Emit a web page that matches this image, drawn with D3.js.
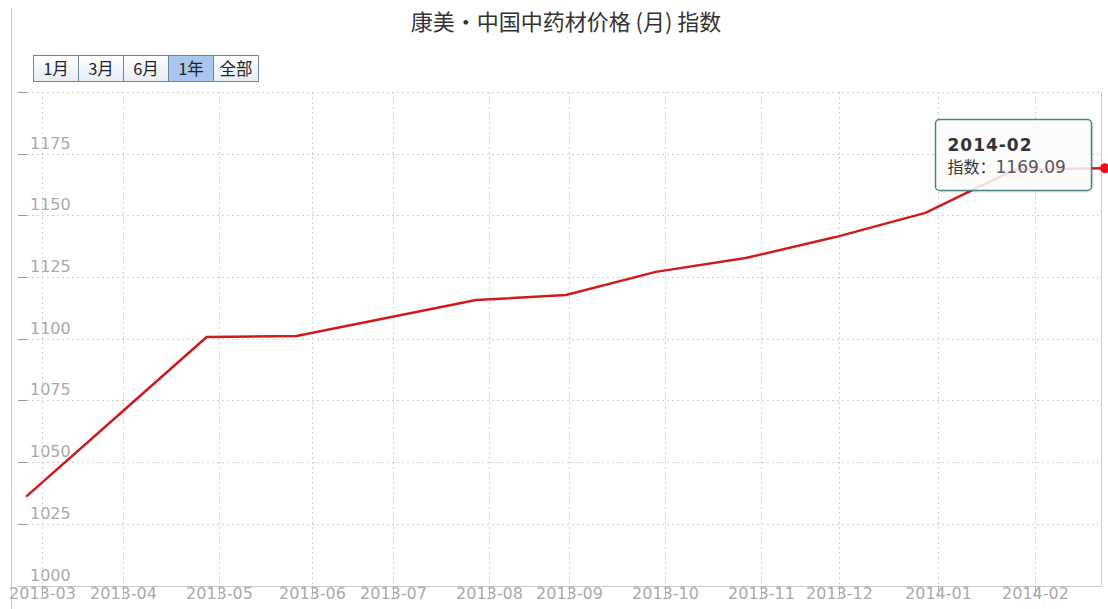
<!DOCTYPE html>
<html>
<head>
  <meta charset="utf-8">
  <title>康美·中国中药材价格 (月) 指数</title>
  <script src="https://d3js.org/d3.v7.min.js"></script>
  <style>
    body { margin: 0; background: #fff; }
  </style>
</head>
<body>

<div id="chart"></div>

<script>
// data: one point per month (release dates near month end)
const dates = ["2013-02-23", "2013-03-30", "2013-04-27", "2013-05-26", "2013-06-29", "2013-07-27",
  "2013-08-31", "2013-09-28", "2013-10-26", "2013-11-30", "2013-12-28", "2014-01-25", "2014-02-25"];
const values = [1036.3, 1068.5, 1100.7, 1101.1, 1108.4, 1115.7,
  1117.7, 1127.1, 1132.7, 1141.2, 1151.0, 1168.6, 1169.09];
const monthTicks = ["2013-03", "2013-04", "2013-05", "2013-06", "2013-07", "2013-08",
  "2013-09", "2013-10", "2013-11", "2013-12", "2014-01", "2014-02"];
const yTicks = [1000, 1025, 1050, 1075, 1100, 1125, 1150, 1175, 1200];
const buttons = ["1月", "3月", "6月", "1年", "全部"];
const selectedButton = "1年";

const W = 1108, H = 609;
const plot = { left: 18, right: 1101, top: 92, bottom: 585.5 };
const axisFont = "DejaVu Sans, sans-serif";
const cjkFont = "'Noto Sans CJK SC', sans-serif";

const parseDay = d3.timeParse("%Y-%m-%d");
const parseMonth = d3.timeParse("%Y-%m");
const fmtMonth = d3.timeFormat("%Y-%m");

const data = dates.map((d, i) => ({ date: parseDay(d), value: values[i] }));

const svg = d3.select("#chart")
  .append("svg")
  .attr("width", W)
  .attr("height", H)
  .style("font-family", axisFont);

// ordinal-style x axis: points evenly spaced, dates interpolated between them
const xIndex = d3.scaleLinear().domain([0, data.length - 1]).range([27, 1105]);
const x = d3.scaleTime()
  .domain(data.map(d => d.date))
  .range(data.map((d, i) => xIndex(i)));

const y = d3.scaleLinear()
  .domain([1000, 1200])
  .range([plot.bottom, plot.top]);

// title
svg.append("text")
  .attr("x", 566)
  .attr("y", 30)
  .attr("text-anchor", "middle")
  .attr("font-family", cjkFont)
  .attr("font-size", 22)
  .attr("fill", "#333")
  .text("康美·中国中药材价格 (月) 指数");

// range selector buttons
const defs = svg.append("defs");
const grad = defs.append("linearGradient").attr("id", "btn").attr("x1", 0).attr("y1", 0).attr("x2", 0).attr("y2", 1);
grad.append("stop").attr("offset", "0%").attr("stop-color", "#ffffff");
grad.append("stop").attr("offset", "100%").attr("stop-color", "#e6edf6");

const bx = d3.scaleBand().domain(buttons).range([33.5, 258.5]);
const btn = svg.append("g").selectAll("g")
  .data(buttons)
  .join("g")
  .attr("transform", d => `translate(${bx(d)},55.5)`);
btn.append("rect")
  .attr("width", bx.bandwidth())
  .attr("height", 26)
  .attr("fill", d => d === selectedButton ? "#a9c6ec" : "url(#btn)")
  .attr("stroke", "#72849c");
btn.append("text")
  .attr("x", bx.bandwidth() / 2)
  .attr("y", 19.5)
  .attr("text-anchor", "middle")
  .attr("font-family", cjkFont)
  .attr("font-size", 16.5)
  .attr("fill", "#222")
  .text(d => d);

// left axis line
svg.append("line")
  .attr("x1", 11.5).attr("x2", 11.5)
  .attr("y1", 8).attr("y2", H)
  .attr("stroke", "#c8c8c8");

// horizontal grid + y ticks
const yg = svg.append("g").selectAll("g")
  .data(yTicks)
  .join("g")
  .attr("transform", d => `translate(0,${Math.round(y(d)) + 0.5})`);
yg.filter(d => d !== 1000).append("line")
  .attr("x1", 27).attr("x2", plot.right)
  .attr("stroke", "#d0d0d0")
  .attr("stroke-dasharray", "2,3");
yg.append("line")
  .attr("x1", plot.left).attr("x2", 27)
  .attr("stroke", "#999");
yg.filter(d => d !== 1200).append("text")
  .attr("x", 30)
  .attr("y", -6)
  .attr("font-size", 16)
  .attr("fill", "#aaa")
  .text(d => d);

// x axis: vertical grid, ticks, labels
const tickDates = monthTicks.map(parseMonth);
const xg = svg.append("g").selectAll("g")
  .data(tickDates)
  .join("g")
  .attr("transform", d => `translate(${Math.round(x(d)) + 0.5},0)`);
xg.append("line")
  .attr("y1", plot.top).attr("y2", plot.bottom)
  .attr("stroke", "#d0d0d0")
  .attr("stroke-dasharray", "2,3");
xg.append("line")
  .attr("y1", plot.bottom).attr("y2", plot.bottom + 11)
  .attr("stroke", "#aaa");
xg.append("text")
  .attr("y", 599)
  .attr("text-anchor", "middle")
  .attr("font-size", 16)
  .attr("fill", "#aaa")
  .text(d => fmtMonth(d));

// bottom axis line and right border
svg.append("line")
  .attr("x1", plot.left).attr("x2", plot.right)
  .attr("y1", Math.round(plot.bottom) + 0.5).attr("y2", Math.round(plot.bottom) + 0.5)
  .attr("stroke", "#c8c8c8");
svg.append("line")
  .attr("x1", plot.right + 0.5).attr("x2", plot.right + 0.5)
  .attr("y1", plot.top).attr("y2", Math.round(plot.bottom) + 0.5)
  .attr("stroke", "#c8c8c8");

// series line
const line = d3.line()
  .x(d => x(d.date))
  .y(d => y(d.value));

svg.append("path")
  .datum(data)
  .attr("fill", "none")
  .attr("stroke", "#cc1c1c")
  .attr("stroke-width", 2.5)
  .attr("stroke-linejoin", "round")
  .attr("stroke-linecap", "round")
  .attr("d", line);

// hovered point + tooltip
const last = data[data.length - 1];
svg.append("circle")
  .attr("cx", x(last.date))
  .attr("cy", y(last.value))
  .attr("r", 5)
  .attr("fill", "#e8101a");

const tip = svg.append("g").attr("transform", "translate(935.5,119.5)");
tip.append("rect")
  .attr("x", 2).attr("y", 2)
  .attr("width", 156).attr("height", 71)
  .attr("rx", 4)
  .attr("fill", "rgba(0,0,0,0.08)");
tip.append("rect")
  .attr("width", 156).attr("height", 71)
  .attr("rx", 4)
  .attr("fill", "rgba(255,255,255,0.85)")
  .attr("stroke", "#4f8280")
  .attr("stroke-width", 1.5);
tip.append("text")
  .attr("x", 12).attr("y", 31)
  .attr("font-size", 17)
  .attr("font-weight", "bold")
  .attr("letter-spacing", 1)
  .attr("fill", "#333")
  .text(fmtMonth(last.date));
tip.append("text")
  .attr("x", 12).attr("y", 53)
  .attr("font-family", cjkFont)
  .attr("font-size", 16)
  .attr("fill", "#333")
  .text("指数：")
  .append("tspan")
  .attr("font-family", axisFont)
  .attr("font-size", 17)
  .attr("fill", "#555")
  .text(last.value.toFixed(2));
</script>

</body>
</html>
